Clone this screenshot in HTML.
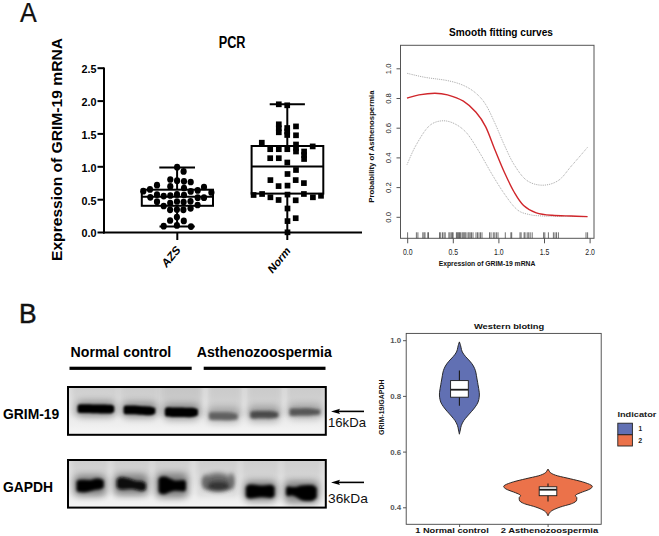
<!DOCTYPE html><html><head><meta charset="utf-8"><style>html,body{margin:0;padding:0;background:#fff;}svg{display:block;}text{font-family:"Liberation Sans",sans-serif;}</style></head><body>
<svg width="659" height="536" viewBox="0 0 659 536">
<rect width="659" height="536" fill="#fff"/>
<text transform="translate(19.9,21.9) scale(0.93,1)" font-size="27" fill="#111" stroke="#111" stroke-width="0.25">A</text>
<text x="18.9" y="322.6" font-size="27" fill="#111" stroke="#111" stroke-width="0.5" textLength="17.6" lengthAdjust="spacingAndGlyphs">B</text>
<g stroke="#000" stroke-width="2" fill="none">
<line x1="104" y1="67.5" x2="104" y2="233.5"/>
<line x1="103" y1="232.5" x2="362" y2="232.5"/>
<line x1="97.5" y1="232.5" x2="104" y2="232.5"/>
<line x1="97.5" y1="199.7" x2="104" y2="199.7"/>
<line x1="97.5" y1="166.8" x2="104" y2="166.8"/>
<line x1="97.5" y1="133.9" x2="104" y2="133.9"/>
<line x1="97.5" y1="101.1" x2="104" y2="101.1"/>
<line x1="97.5" y1="68.2" x2="104" y2="68.2"/>
<line x1="177.3" y1="232.5" x2="177.3" y2="240"/>
<line x1="287.3" y1="232.5" x2="287.3" y2="240"/>
<line x1="177.1" y1="167.6" x2="177.1" y2="189.7"/>
<line x1="177.1" y1="205.8" x2="177.1" y2="226.6"/>
<line x1="159.3" y1="167.6" x2="195" y2="167.6"/>
<line x1="159.5" y1="226.6" x2="194.8" y2="226.6"/>
<rect x="141.8" y="189.7" width="71.2" height="16.1"/>
<line x1="141.8" y1="196.7" x2="213" y2="196.7"/>
<line x1="287.3" y1="104.3" x2="287.3" y2="146"/>
<line x1="287.3" y1="193.6" x2="287.3" y2="232.5"/>
<line x1="269.7" y1="104.3" x2="304.9" y2="104.3"/>
<rect x="251.6" y="146" width="71.7" height="47.6"/>
<line x1="251.6" y1="166.4" x2="323.3" y2="166.4"/>
</g>
<g fill="#000">
<ellipse cx="177.1" cy="167.2" rx="3.1" ry="3.35"/>
<ellipse cx="183.6" cy="171.4" rx="3.1" ry="3.35"/>
<ellipse cx="170.3" cy="179.5" rx="3.1" ry="3.35"/>
<ellipse cx="177.1" cy="180.7" rx="3.1" ry="3.35"/>
<ellipse cx="184" cy="181.3" rx="3.1" ry="3.35"/>
<ellipse cx="190.7" cy="182" rx="3.1" ry="3.35"/>
<ellipse cx="157" cy="185.2" rx="3.1" ry="3.35"/>
<ellipse cx="170.3" cy="186.4" rx="3.1" ry="3.35"/>
<ellipse cx="184" cy="188" rx="3.1" ry="3.35"/>
<ellipse cx="204" cy="187" rx="3.1" ry="3.35"/>
<ellipse cx="150" cy="189.4" rx="3.1" ry="3.35"/>
<ellipse cx="143.3" cy="191.2" rx="3.1" ry="3.35"/>
<ellipse cx="190.7" cy="191.4" rx="3.1" ry="3.35"/>
<ellipse cx="197.7" cy="190.4" rx="3.1" ry="3.35"/>
<ellipse cx="211.4" cy="192.4" rx="3.1" ry="3.35"/>
<ellipse cx="157" cy="194.6" rx="3.1" ry="3.35"/>
<ellipse cx="150.3" cy="197.3" rx="3.1" ry="3.35"/>
<ellipse cx="163.7" cy="196.1" rx="3.1" ry="3.35"/>
<ellipse cx="170.3" cy="195.5" rx="3.1" ry="3.35"/>
<ellipse cx="177" cy="194.4" rx="3.1" ry="3.35"/>
<ellipse cx="184" cy="195" rx="3.1" ry="3.35"/>
<ellipse cx="197.7" cy="197.7" rx="3.1" ry="3.35"/>
<ellipse cx="204" cy="197.7" rx="3.1" ry="3.35"/>
<ellipse cx="157" cy="201.7" rx="3.1" ry="3.35"/>
<ellipse cx="170.2" cy="203" rx="3.1" ry="3.35"/>
<ellipse cx="177" cy="201.5" rx="3.1" ry="3.35"/>
<ellipse cx="183.6" cy="202" rx="3.1" ry="3.35"/>
<ellipse cx="190.5" cy="201.3" rx="3.1" ry="3.35"/>
<ellipse cx="163.7" cy="206" rx="3.1" ry="3.35"/>
<ellipse cx="197.6" cy="205" rx="3.1" ry="3.35"/>
<ellipse cx="170.1" cy="209.8" rx="3.1" ry="3.35"/>
<ellipse cx="176.9" cy="209.5" rx="3.1" ry="3.35"/>
<ellipse cx="183.4" cy="209.8" rx="3.1" ry="3.35"/>
<ellipse cx="190.6" cy="208.3" rx="3.1" ry="3.35"/>
<ellipse cx="176.9" cy="217.1" rx="3.1" ry="3.35"/>
<ellipse cx="170.1" cy="220.5" rx="3.1" ry="3.35"/>
<ellipse cx="183.8" cy="220.9" rx="3.1" ry="3.35"/>
<ellipse cx="163.7" cy="226.2" rx="3.1" ry="3.35"/>
<ellipse cx="176.9" cy="225.4" rx="3.1" ry="3.35"/>
<ellipse cx="191" cy="226.6" rx="3.1" ry="3.35"/>
<rect x="275.95" y="101.45" width="5.7" height="5.7"/>
<rect x="284.35" y="102.45" width="5.7" height="5.7"/>
<rect x="275.95" y="121.45" width="5.7" height="5.7"/>
<rect x="275.95" y="129.45" width="5.7" height="5.7"/>
<rect x="284.35" y="125.15" width="5.7" height="5.7"/>
<rect x="284.35" y="132.15" width="5.7" height="5.7"/>
<rect x="293.15" y="123.55" width="5.7" height="5.7"/>
<rect x="293.15" y="132.45" width="5.7" height="5.7"/>
<rect x="293.15" y="141.65" width="5.7" height="5.7"/>
<rect x="258.95" y="139.85" width="5.7" height="5.7"/>
<rect x="309.85" y="143.55" width="5.7" height="5.7"/>
<rect x="267.35" y="146.35" width="5.7" height="5.7"/>
<rect x="275.95" y="146.35" width="5.7" height="5.7"/>
<rect x="284.45" y="146.35" width="5.7" height="5.7"/>
<rect x="293.15" y="148.65" width="5.7" height="5.7"/>
<rect x="301.25" y="148.65" width="5.7" height="5.7"/>
<rect x="301.25" y="156.15" width="5.7" height="5.7"/>
<rect x="267.35" y="155.35" width="5.7" height="5.7"/>
<rect x="275.95" y="155.35" width="5.7" height="5.7"/>
<rect x="284.45" y="159.65" width="5.7" height="5.7"/>
<rect x="293.15" y="167.15" width="5.7" height="5.7"/>
<rect x="284.65" y="171.15" width="5.7" height="5.7"/>
<rect x="267.55" y="177.25" width="5.7" height="5.7"/>
<rect x="292.85" y="177.25" width="5.7" height="5.7"/>
<rect x="301.05" y="180.25" width="5.7" height="5.7"/>
<rect x="275.75" y="183.25" width="5.7" height="5.7"/>
<rect x="284.65" y="182.75" width="5.7" height="5.7"/>
<rect x="250.75" y="192.15" width="5.7" height="5.7"/>
<rect x="259.25" y="191.15" width="5.7" height="5.7"/>
<rect x="267.55" y="194.45" width="5.7" height="5.7"/>
<rect x="275.75" y="197.15" width="5.7" height="5.7"/>
<rect x="284.65" y="191.75" width="5.7" height="5.7"/>
<rect x="292.85" y="197.45" width="5.7" height="5.7"/>
<rect x="301.05" y="191.15" width="5.7" height="5.7"/>
<rect x="310.05" y="194.45" width="5.7" height="5.7"/>
<rect x="318.15" y="192.95" width="5.7" height="5.7"/>
<rect x="284.65" y="205.65" width="5.7" height="5.7"/>
<rect x="292.85" y="215.35" width="5.7" height="5.7"/>
<rect x="284.65" y="218.25" width="5.7" height="5.7"/>
<rect x="284.65" y="229.45" width="5.7" height="5.7"/>
<rect x="275.95" y="125.45" width="5.7" height="5.7"/>
<rect x="284.35" y="128.65" width="5.7" height="5.7"/>
<rect x="301.25" y="152.15" width="5.7" height="5.7"/>
<rect x="293.15" y="145.15" width="5.7" height="5.7"/>
</g>
<g font-size="11.4" font-weight="bold" fill="#000" text-anchor="end">
<text x="96.4" y="237.3" textLength="15" lengthAdjust="spacingAndGlyphs">0.0</text>
<text x="96.4" y="204.5" textLength="15" lengthAdjust="spacingAndGlyphs">0.5</text>
<text x="96.4" y="171.6" textLength="15" lengthAdjust="spacingAndGlyphs">1.0</text>
<text x="96.4" y="138.8" textLength="15" lengthAdjust="spacingAndGlyphs">1.5</text>
<text x="96.4" y="105.9" textLength="15" lengthAdjust="spacingAndGlyphs">2.0</text>
<text x="96.4" y="73.0" textLength="15" lengthAdjust="spacingAndGlyphs">2.5</text>
</g>
<text x="218.7" y="47.8" font-size="16.8" font-weight="bold" textLength="26.8" lengthAdjust="spacingAndGlyphs">PCR</text>
<text transform="translate(61.5,261) rotate(-90)" x="0" y="0" font-size="14" font-weight="bold" textLength="223" lengthAdjust="spacingAndGlyphs">Expression of GRIM-19 mRNA</text>
<text transform="translate(166.3,268.6) scale(1,1.22) rotate(-45)" font-size="10.4" font-weight="bold">AZS</text>
<text transform="translate(272.3,274.3) scale(1,1.22) rotate(-45)" font-size="10.1" font-weight="bold">Norm</text>
<g stroke="#555" stroke-width="1" fill="none">
<rect x="400.5" y="45.3" width="193.5" height="193"/>
<line x1="396.5" y1="217.3" x2="400.5" y2="217.3"/>
<line x1="396.5" y1="187.6" x2="400.5" y2="187.6"/>
<line x1="396.5" y1="157.9" x2="400.5" y2="157.9"/>
<line x1="396.5" y1="128.2" x2="400.5" y2="128.2"/>
<line x1="396.5" y1="98.5" x2="400.5" y2="98.5"/>
<line x1="396.5" y1="68.8" x2="400.5" y2="68.8"/>
<line x1="407.7" y1="238.3" x2="407.7" y2="243.3"/>
<line x1="453.3" y1="238.3" x2="453.3" y2="243.3"/>
<line x1="498.9" y1="238.3" x2="498.9" y2="243.3"/>
<line x1="544.5" y1="238.3" x2="544.5" y2="243.3"/>
<line x1="590.1" y1="238.3" x2="590.1" y2="243.3"/>
</g>
<g font-size="8.3" fill="#222" text-anchor="middle">
<text transform="translate(391.2,217.3) rotate(-90)" font-size="7.7">0.0</text>
<text transform="translate(391.2,187.6) rotate(-90)" font-size="7.7">0.2</text>
<text transform="translate(391.2,157.9) rotate(-90)" font-size="7.7">0.4</text>
<text transform="translate(391.2,128.2) rotate(-90)" font-size="7.7">0.6</text>
<text transform="translate(391.2,98.5) rotate(-90)" font-size="7.7">0.8</text>
<text transform="translate(391.2,68.8) rotate(-90)" font-size="7.7">1.0</text>
<text x="407.7" y="255.2" textLength="9.6" lengthAdjust="spacingAndGlyphs">0.0</text>
<text x="453.3" y="255.2" textLength="9.6" lengthAdjust="spacingAndGlyphs">0.5</text>
<text x="498.9" y="255.2" textLength="9.6" lengthAdjust="spacingAndGlyphs">1.0</text>
<text x="544.5" y="255.2" textLength="9.6" lengthAdjust="spacingAndGlyphs">1.5</text>
<text x="590.1" y="255.2" textLength="9.6" lengthAdjust="spacingAndGlyphs">2.0</text>
</g>
<text x="449.1" y="36" font-size="10.9" font-weight="bold" textLength="103.8" lengthAdjust="spacingAndGlyphs">Smooth fitting curves</text>
<text x="438.7" y="265.5" font-size="8" font-weight="bold" fill="#111" textLength="96.6" lengthAdjust="spacingAndGlyphs">Expression of GRIM-19 mRNA</text>
<text transform="translate(373.6,202.7) rotate(-90)" font-size="7.6" font-weight="bold" fill="#111" textLength="112.3" lengthAdjust="spacingAndGlyphs">Probability of Asthenospermia</text>
<path d="M407,73.3 C410.1,74.0 418.6,76.2 425.4,77.4 C432.1,78.6 441.2,79.3 447.5,80.6 C453.8,81.9 458.6,83.3 463.4,85.4 C468.1,87.5 472.3,90.1 476,93.3 C479.7,96.5 482.4,99.4 485.6,104.4 C488.8,109.4 491.8,116.5 495,123.4 C498.2,130.3 501.4,138.7 504.6,145.6 C507.8,152.5 510.4,158.8 514.1,164.6 C517.8,170.4 522.0,177.0 526.8,180.4 C531.5,183.8 537.3,185.2 542.6,185.2 C547.9,185.2 553.7,183.6 558.5,180.4 C563.3,177.2 566.4,171.7 571.2,166.2 C576.1,160.7 584.9,150.4 587.6,147.2" fill="none" stroke="#8a8a8a" stroke-width="0.8" stroke-dasharray="0.9 1"/>
<path d="M407,164.6 C408.5,161.4 412.2,151.9 415.8,145.6 C419.4,139.3 424.3,130.7 428.5,126.6 C432.7,122.5 437.0,121.4 441.2,120.9 C445.4,120.4 449.7,121.4 453.9,123.4 C458.1,125.4 462.4,128.2 466.6,132.9 C470.8,137.7 475.0,145.0 479.2,151.9 C483.4,158.8 487.7,167.1 491.9,174.1 C496.1,181.1 500.4,188.2 504.6,194.2 C508.8,200.1 513.1,206.4 517.3,209.8 C521.5,213.2 525.8,213.7 530,214.7 C534.2,215.7 537.9,215.7 542.6,216 C547.4,216.3 551.0,216.2 558.5,216.3 C566.0,216.4 582.8,216.6 587.6,216.6" fill="none" stroke="#8a8a8a" stroke-width="0.8" stroke-dasharray="0.9 1"/>
<path d="M407,98 C409.0,97.5 414.4,95.7 419,94.9 C423.6,94.1 430.1,93.3 434.9,93.3 C439.6,93.3 442.8,93.6 447.5,94.9 C452.2,96.2 458.6,98.3 463.4,101.2 C468.1,104.1 472.3,108.1 476,112.3 C479.7,116.5 482.4,120.3 485.6,126.6 C488.8,132.9 491.8,142.3 495,150 C498.2,157.7 501.4,165.8 504.6,172.8 C507.8,179.8 510.9,186.6 514.1,192 C517.3,197.4 519.9,202.0 523.6,205.5 C527.3,209.0 531.5,211.2 536.3,212.8 C541.0,214.4 546.3,214.8 552.1,215.3 C557.9,215.8 565.3,215.8 571.2,216 C577.1,216.2 584.9,216.5 587.6,216.6" fill="none" stroke="#d0262b" stroke-width="1.4"/>
<g stroke="#333" stroke-width="0.7">
<line x1="407.6" y1="232.3" x2="407.6" y2="238.3"/>
<line x1="416.4" y1="232.3" x2="416.4" y2="238.3"/>
<line x1="417.9" y1="232.3" x2="417.9" y2="238.3"/>
<line x1="422.8" y1="232.3" x2="422.8" y2="238.3"/>
<line x1="424" y1="232.3" x2="424" y2="238.3"/>
<line x1="425" y1="232.3" x2="425" y2="238.3"/>
<line x1="427.8" y1="232.3" x2="427.8" y2="238.3"/>
<line x1="428.5" y1="232.3" x2="428.5" y2="238.3"/>
<line x1="439.5" y1="232.3" x2="439.5" y2="238.3"/>
<line x1="440.7" y1="232.3" x2="440.7" y2="238.3"/>
<line x1="442.5" y1="232.3" x2="442.5" y2="238.3"/>
<line x1="444" y1="232.3" x2="444" y2="238.3"/>
<line x1="445.2" y1="232.3" x2="445.2" y2="238.3"/>
<line x1="448.9" y1="232.3" x2="448.9" y2="238.3"/>
<line x1="450" y1="232.3" x2="450" y2="238.3"/>
<line x1="451.3" y1="232.3" x2="451.3" y2="238.3"/>
<line x1="452.4" y1="232.3" x2="452.4" y2="238.3"/>
<line x1="453.1" y1="232.3" x2="453.1" y2="238.3"/>
<line x1="456.4" y1="232.3" x2="456.4" y2="238.3"/>
<line x1="457.2" y1="232.3" x2="457.2" y2="238.3"/>
<line x1="458" y1="232.3" x2="458" y2="238.3"/>
<line x1="458.8" y1="232.3" x2="458.8" y2="238.3"/>
<line x1="459.6" y1="232.3" x2="459.6" y2="238.3"/>
<line x1="460.4" y1="232.3" x2="460.4" y2="238.3"/>
<line x1="462" y1="232.3" x2="462" y2="238.3"/>
<line x1="463" y1="232.3" x2="463" y2="238.3"/>
<line x1="464" y1="232.3" x2="464" y2="238.3"/>
<line x1="465" y1="232.3" x2="465" y2="238.3"/>
<line x1="466" y1="232.3" x2="466" y2="238.3"/>
<line x1="468" y1="232.3" x2="468" y2="238.3"/>
<line x1="469" y1="232.3" x2="469" y2="238.3"/>
<line x1="470.2" y1="232.3" x2="470.2" y2="238.3"/>
<line x1="471.5" y1="232.3" x2="471.5" y2="238.3"/>
<line x1="473" y1="232.3" x2="473" y2="238.3"/>
<line x1="476" y1="232.3" x2="476" y2="238.3"/>
<line x1="477.5" y1="232.3" x2="477.5" y2="238.3"/>
<line x1="479" y1="232.3" x2="479" y2="238.3"/>
<line x1="480.5" y1="232.3" x2="480.5" y2="238.3"/>
<line x1="482" y1="232.3" x2="482" y2="238.3"/>
<line x1="489.5" y1="232.3" x2="489.5" y2="238.3"/>
<line x1="491" y1="232.3" x2="491" y2="238.3"/>
<line x1="493.3" y1="232.3" x2="493.3" y2="238.3"/>
<line x1="494.8" y1="232.3" x2="494.8" y2="238.3"/>
<line x1="496.4" y1="232.3" x2="496.4" y2="238.3"/>
<line x1="498" y1="232.3" x2="498" y2="238.3"/>
<line x1="505.3" y1="232.3" x2="505.3" y2="238.3"/>
<line x1="510.9" y1="232.3" x2="510.9" y2="238.3"/>
<line x1="511.7" y1="232.3" x2="511.7" y2="238.3"/>
<line x1="520" y1="232.3" x2="520" y2="238.3"/>
<line x1="521.1" y1="232.3" x2="521.1" y2="238.3"/>
<line x1="524.1" y1="232.3" x2="524.1" y2="238.3"/>
<line x1="525" y1="232.3" x2="525" y2="238.3"/>
<line x1="527.2" y1="232.3" x2="527.2" y2="238.3"/>
<line x1="528.7" y1="232.3" x2="528.7" y2="238.3"/>
<line x1="530.2" y1="232.3" x2="530.2" y2="238.3"/>
<line x1="532.2" y1="232.3" x2="532.2" y2="238.3"/>
<line x1="543.6" y1="232.3" x2="543.6" y2="238.3"/>
<line x1="544.8" y1="232.3" x2="544.8" y2="238.3"/>
<line x1="548.4" y1="232.3" x2="548.4" y2="238.3"/>
<line x1="553.4" y1="232.3" x2="553.4" y2="238.3"/>
<line x1="555" y1="232.3" x2="555" y2="238.3"/>
<line x1="556.5" y1="232.3" x2="556.5" y2="238.3"/>
<line x1="558.4" y1="232.3" x2="558.4" y2="238.3"/>
<line x1="586" y1="232.3" x2="586" y2="238.3"/>
<line x1="587.6" y1="232.3" x2="587.6" y2="238.3"/>
</g>
<text x="70.6" y="356.8" font-size="14.3" font-weight="bold" textLength="100.7" lengthAdjust="spacingAndGlyphs">Normal control</text>
<text x="196.8" y="356.8" font-size="14.3" font-weight="bold" textLength="135" lengthAdjust="spacingAndGlyphs">Asthenozoospermia</text>
<rect x="69.5" y="366.7" width="122.2" height="3.2" fill="#000"/>
<rect x="203.7" y="366.7" width="121.8" height="3.2" fill="#000"/>
<text x="3" y="418.9" font-size="14" font-weight="bold" textLength="56.3" lengthAdjust="spacingAndGlyphs">GRIM-19</text>
<text x="3" y="491.9" font-size="14" font-weight="bold" textLength="50.1" lengthAdjust="spacingAndGlyphs">GAPDH</text>
<defs>
<linearGradient id="bg1" x1="0" y1="0" x2="0" y2="1"><stop offset="0" stop-color="#dddddd"/><stop offset="0.45" stop-color="#e5e5e5"/><stop offset="1" stop-color="#f5f5f5"/></linearGradient>
<filter id="b1" x="-30%" y="-80%" width="160%" height="260%"><feGaussianBlur stdDeviation="1.1"/></filter>
<filter id="b2" x="-30%" y="-80%" width="160%" height="260%"><feGaussianBlur stdDeviation="3.5"/></filter>
<filter id="b4" x="-50%" y="-50%" width="200%" height="200%"><feGaussianBlur stdDeviation="1.7"/></filter>
<filter id="b5" x="-50%" y="-50%" width="200%" height="200%"><feGaussianBlur stdDeviation="1.7"/></filter>
<filter id="b6" x="-80%" y="-80%" width="260%" height="260%"><feGaussianBlur stdDeviation="2"/></filter>
<filter id="b3" x="-50%" y="-50%" width="200%" height="200%"><feGaussianBlur stdDeviation="2.5"/></filter>
<clipPath id="c1"><rect x="68" y="387" width="257.8" height="47.8"/></clipPath>
<clipPath id="c2"><rect x="68" y="460" width="257.8" height="47.6"/></clipPath>
<linearGradient id="bg2" x1="0" y1="0" x2="0" y2="1"><stop offset="0" stop-color="#dcdcdc"/><stop offset="0.45" stop-color="#e4e4e4"/><stop offset="1" stop-color="#f4f4f4"/></linearGradient>
</defs>
<g clip-path="url(#c1)">
<rect x="68" y="387" width="257.8" height="47.8" fill="url(#bg1)"/>
<rect x="72" y="380" width="46" height="36" fill="#000" opacity="0.06" filter="url(#b3)"/>
<rect x="120" y="380" width="40" height="36" fill="#000" opacity="0.07" filter="url(#b3)"/>
<rect x="161" y="380" width="41" height="36" fill="#000" opacity="0.1" filter="url(#b3)"/>
<rect x="208" y="380" width="34" height="36" fill="#000" opacity="0.08" filter="url(#b3)"/>
<rect x="247" y="380" width="35" height="36" fill="#000" opacity="0.08" filter="url(#b3)"/>
<rect x="287" y="380" width="37" height="36" fill="#000" opacity="0.08" filter="url(#b3)"/>
<rect x="76" y="401" width="39.5" height="16" rx="6" fill="#000" opacity="0.33" filter="url(#b2)"/>
<rect x="122" y="402" width="35" height="16" rx="6" fill="#000" opacity="0.33" filter="url(#b2)"/>
<rect x="163.5" y="404" width="36.0" height="16" rx="6" fill="#000" opacity="0.33" filter="url(#b2)"/>
<rect x="207" y="407" width="33" height="16" rx="6" fill="#000" opacity="0.22" filter="url(#b2)"/>
<rect x="248" y="406" width="32" height="16" rx="6" fill="#000" opacity="0.25" filter="url(#b2)"/>
<rect x="288" y="404" width="34" height="15" rx="6" fill="#000" opacity="0.22" filter="url(#b2)"/>
<path d="M77.5,406.5 C77.8,406.2 77.8,405.0 79.0,404.6 C80.2,404.2 82.3,404.3 85.0,404.3 C87.7,404.3 91.7,404.4 95.0,404.5 C98.3,404.6 102.3,404.6 105.0,404.6 C107.7,404.7 109.5,404.5 111.0,404.8 C112.5,405.1 113.7,406.2 114.2,406.5 L114.2,411.8 C113.7,412.1 112.5,413.1 111.0,413.4 C109.5,413.7 107.7,413.4 105.0,413.4 C102.3,413.4 98.3,413.3 95.0,413.2 C91.7,413.1 87.7,413.1 85.0,413.0 C82.3,412.9 80.2,413.1 79.0,412.8 C77.8,412.6 77.8,411.7 77.5,411.5 Z" fill="#050505" filter="url(#b1)"/>
<path d="M123.6,407.5 C123.8,407.2 123.9,406.0 125.0,405.7 C126.1,405.4 127.5,405.5 130.0,405.5 C132.5,405.5 136.7,405.7 140.0,405.9 C143.3,406.1 147.4,406.2 150.0,406.6 C152.6,407.0 154.4,408.0 155.3,408.3 L155.3,413.6 C154.4,413.9 152.6,415.1 150.0,415.3 C147.4,415.5 143.3,415.0 140.0,414.8 C136.7,414.6 132.5,414.4 130.0,414.3 C127.5,414.2 126.1,414.5 125.0,414.2 C123.9,413.9 123.8,412.8 123.6,412.5 Z" fill="#050505" filter="url(#b1)"/>
<path d="M164.9,409.5 C165.2,409.2 165.3,408.0 166.5,407.6 C167.7,407.2 169.4,407.4 172.0,407.4 C174.6,407.4 178.7,407.5 182.0,407.6 C185.3,407.7 189.3,407.5 192.0,407.8 C194.7,408.1 196.9,409.2 197.9,409.5 L197.9,415.2 C196.9,415.5 194.7,416.7 192.0,417.0 C189.3,417.3 185.3,417.1 182.0,417.1 C178.7,417.1 174.6,417.1 172.0,417.0 C169.4,416.9 167.7,417.0 166.5,416.6 C165.3,416.2 165.2,415.1 164.9,414.8 Z" fill="#050505" filter="url(#b1)"/>
<path d="M209.0,414.0 C209.3,413.7 209.2,412.6 211.0,412.3 C212.8,412.0 216.8,412.3 220.0,412.3 C223.2,412.3 227.1,412.2 230.0,412.5 C232.9,412.8 236.3,413.8 237.6,414.0 L237.6,419.2 C236.3,419.4 232.9,420.1 230.0,420.2 C227.1,420.3 223.2,420.1 220.0,420.0 C216.8,419.9 212.8,420.1 211.0,419.8 C209.2,419.6 209.3,418.7 209.0,418.5 Z" fill="#606060" filter="url(#b4)"/>
<path d="M250.3,412.8 C250.7,412.6 250.6,411.6 252.5,411.3 C254.4,411.0 258.8,411.0 262.0,411.0 C265.2,411.0 269.3,410.9 272.0,411.2 C274.7,411.5 277.2,412.5 278.3,412.8 L278.3,417.0 C277.2,417.2 274.7,418.1 272.0,418.3 C269.3,418.5 265.2,418.3 262.0,418.3 C258.8,418.3 254.4,418.6 252.5,418.4 C250.6,418.2 250.7,417.4 250.3,417.2 Z" fill="#484848" filter="url(#b4)"/>
<path d="M289.6,410.2 C289.9,409.9 289.8,408.9 291.5,408.6 C293.2,408.3 296.9,408.4 300.0,408.4 C303.1,408.4 306.6,408.2 310.0,408.4 C313.4,408.6 318.4,409.6 320.1,409.8 L320.1,414.3 C318.4,414.5 313.4,415.2 310.0,415.4 C306.6,415.6 303.1,415.5 300.0,415.6 C296.9,415.7 293.2,415.9 291.5,415.8 C289.8,415.7 289.9,415.0 289.6,414.8 Z" fill="#555555" filter="url(#b4)"/>
</g>
<rect x="68" y="387" width="257.8" height="47.8" fill="none" stroke="#000" stroke-width="2"/>
<g clip-path="url(#c2)">
<rect x="68" y="460" width="257.8" height="47.6" fill="url(#bg2)"/>
<rect x="72" y="455" width="36" height="42" fill="#000" opacity="0.06" filter="url(#b3)"/>
<rect x="113" y="455" width="37" height="42" fill="#000" opacity="0.06" filter="url(#b3)"/>
<rect x="154" y="455" width="36" height="42" fill="#000" opacity="0.06" filter="url(#b3)"/>
<rect x="197" y="455" width="41" height="42" fill="#000" opacity="0.06" filter="url(#b3)"/>
<rect x="242" y="455" width="37" height="42" fill="#000" opacity="0.06" filter="url(#b3)"/>
<rect x="283" y="455" width="38" height="42" fill="#000" opacity="0.06" filter="url(#b3)"/>
<rect x="74" y="475" width="32" height="21" rx="6" fill="#000" opacity="0.4" filter="url(#b2)"/>
<rect x="114" y="474" width="34" height="21" rx="6" fill="#000" opacity="0.4" filter="url(#b2)"/>
<rect x="156" y="473" width="32" height="25" rx="6" fill="#000" opacity="0.4" filter="url(#b2)"/>
<rect x="244" y="481" width="33" height="21" rx="6" fill="#000" opacity="0.4" filter="url(#b2)"/>
<rect x="284" y="481" width="35" height="23" rx="6" fill="#000" opacity="0.4" filter="url(#b2)"/>
<path d="M76.5,481.5 C76.9,481.2 77.6,480.3 79.0,480.0 C80.4,479.7 83.0,479.8 85.0,479.8 C87.0,479.8 89.3,480.2 91.0,480.0 C92.7,479.8 93.5,479.0 95.0,478.8 C96.5,478.6 98.5,478.4 100.0,478.7 C101.5,479.0 103.2,480.2 103.8,480.5 L103.8,487.5 C103.2,487.8 101.5,488.9 100.0,489.3 C98.5,489.7 96.5,489.7 95.0,490.0 C93.5,490.3 92.7,490.6 91.0,491.0 C89.3,491.4 87.0,492.1 85.0,492.3 C83.0,492.5 80.4,492.3 79.0,492.0 C77.6,491.7 76.9,490.8 76.5,490.5 Z" fill="#050505" filter="url(#b5)"/>
<path d="M116.7,480.0 C117.1,479.6 117.8,478.2 119.0,477.8 C120.2,477.4 122.3,477.3 124.0,477.4 C125.7,477.5 127.5,478.1 129.0,478.5 C130.5,478.9 131.7,479.6 133.0,480.0 C134.3,480.4 135.5,480.8 137.0,481.0 C138.5,481.2 140.5,480.9 142.0,481.3 C143.5,481.7 145.3,483.1 146.0,483.5 L146.0,489.5 C145.3,489.8 143.5,490.9 142.0,491.0 C140.5,491.1 138.5,490.3 137.0,490.0 C135.5,489.7 134.3,489.2 133.0,489.0 C131.7,488.8 130.5,488.9 129.0,489.0 C127.5,489.1 125.7,489.5 124.0,489.5 C122.3,489.5 120.2,489.4 119.0,489.0 C117.8,488.6 117.1,487.3 116.7,487.0 Z" fill="#0a0a0a" filter="url(#b5)"/>
<path d="M158.5,479.5 C158.8,479.1 159.4,477.5 160.5,477.0 C161.6,476.5 163.4,476.4 165.0,476.6 C166.6,476.9 168.3,477.9 170.0,478.5 C171.7,479.1 173.3,480.2 175.0,480.5 C176.7,480.8 178.5,480.4 180.0,480.3 C181.5,480.2 183.0,479.7 184.0,480.0 C185.0,480.3 185.7,481.7 186.0,482.0 L186.0,489.5 C185.7,489.8 185.0,491.1 184.0,491.4 C183.0,491.6 181.5,491.1 180.0,491.0 C178.5,490.9 176.7,490.5 175.0,490.7 C173.3,490.9 171.7,491.4 170.0,492.0 C168.3,492.6 166.6,493.7 165.0,494.0 C163.4,494.3 161.6,494.3 160.5,493.8 C159.4,493.3 158.8,491.5 158.5,491.0 Z" fill="#050505" filter="url(#b5)"/>
<path d="M245.8,487.5 C246.2,487.1 246.8,485.5 248.0,485.0 C249.2,484.5 251.0,484.5 253.0,484.6 C255.0,484.7 257.8,485.4 260.0,485.5 C262.2,485.6 264.2,485.4 266.0,485.3 C267.8,485.2 269.6,484.5 271.0,484.8 C272.4,485.1 274.0,486.6 274.6,487.0 L274.6,496.0 C274.0,496.3 272.4,497.8 271.0,498.0 C269.6,498.2 267.8,497.6 266.0,497.5 C264.2,497.4 262.2,497.2 260.0,497.3 C257.8,497.4 255.0,498.1 253.0,498.3 C251.0,498.5 249.2,498.7 248.0,498.3 C246.8,497.9 246.2,496.4 245.8,496.0 Z" fill="#050505" filter="url(#b5)"/>
<path d="M286.0,488.5 C286.3,488.1 287.0,486.4 288.0,486.2 C289.0,485.9 290.7,486.9 292.0,487.0 C293.3,487.1 294.5,487.2 296.0,487.0 C297.5,486.8 299.2,485.8 301.0,485.5 C302.8,485.2 305.0,485.0 307.0,485.0 C309.0,485.0 311.4,484.8 313.0,485.3 C314.6,485.8 316.2,487.6 316.8,488.0 L316.8,497.5 C316.2,498.0 314.6,499.9 313.0,500.5 C311.4,501.1 309.0,501.1 307.0,501.0 C305.0,500.9 302.8,500.7 301.0,500.0 C299.2,499.3 297.5,497.8 296.0,497.0 C294.5,496.2 293.3,495.6 292.0,495.5 C290.7,495.4 289.0,496.4 288.0,496.2 C287.0,496.0 286.3,494.8 286.0,494.5 Z" fill="#050505" filter="url(#b5)"/>
<ellipse cx="217.5" cy="482" rx="15" ry="9" fill="#000" opacity="0.5" filter="url(#b3)"/>
<ellipse cx="218.5" cy="486" rx="13" ry="4.6" fill="#333" filter="url(#b6)"/>
<ellipse cx="205.5" cy="482" rx="2.6" ry="7" fill="#666" filter="url(#b6)"/>
<ellipse cx="231.5" cy="481" rx="2.6" ry="8" fill="#666" filter="url(#b6)"/>
</g>
<rect x="68" y="460" width="257.8" height="47.6" fill="none" stroke="#000" stroke-width="2"/>
<line x1="336" y1="411.4" x2="364" y2="411.4" stroke="#000" stroke-width="1.6"/>
<path d="M331,411.4 L340,408.79999999999995 L338.5,411.4 L340,414.0 Z" fill="#000"/>
<line x1="336" y1="482.4" x2="364" y2="482.4" stroke="#000" stroke-width="1.6"/>
<path d="M331,482.4 L340,479.79999999999995 L338.5,482.4 L340,485.0 Z" fill="#000"/>
<text x="328" y="427.3" font-size="13" fill="#111" textLength="38" lengthAdjust="spacingAndGlyphs">16kDa</text>
<text x="328" y="503.2" font-size="13" fill="#111" textLength="39.8" lengthAdjust="spacingAndGlyphs">36kDa</text>
<rect x="406.2" y="333.4" width="195" height="190.9" fill="none" stroke="#444" stroke-width="0.9"/>
<g stroke="#444" stroke-width="0.9">
<line x1="403" y1="340.7" x2="406.2" y2="340.7"/>
<line x1="403" y1="396.4" x2="406.2" y2="396.4"/>
<line x1="403" y1="452.1" x2="406.2" y2="452.1"/>
<line x1="403" y1="507.8" x2="406.2" y2="507.8"/>
<line x1="459.6" y1="524.3" x2="459.6" y2="527"/>
<line x1="548.1" y1="524.3" x2="548.1" y2="527"/>
</g>
<g font-size="7.2" font-weight="bold" fill="#555" text-anchor="end">
<text x="401.2" y="343.3" textLength="11" lengthAdjust="spacingAndGlyphs">1.0</text>
<text x="401.2" y="399.0" textLength="11" lengthAdjust="spacingAndGlyphs">0.8</text>
<text x="401.2" y="454.7" textLength="11" lengthAdjust="spacingAndGlyphs">0.6</text>
<text x="401.2" y="510.4" textLength="11" lengthAdjust="spacingAndGlyphs">0.4</text>
</g>
<text x="474" y="329.4" font-size="7.6" font-weight="bold" fill="#111" textLength="70.2" lengthAdjust="spacingAndGlyphs">Western bloting</text>
<text x="415.2" y="532.8" font-size="7.6" font-weight="bold" fill="#111" textLength="73.6" lengthAdjust="spacingAndGlyphs">1 Normal control</text>
<text x="500.7" y="532.8" font-size="7.6" font-weight="bold" fill="#111" textLength="97.5" lengthAdjust="spacingAndGlyphs">2 Asthenozoospermia</text>
<text transform="translate(384.3,434.9) rotate(-90)" font-size="7.2" font-weight="bold" fill="#111" textLength="55.4" lengthAdjust="spacingAndGlyphs">GRIM-19/GAPDH</text>
<path d="M459.4,341.9 C459.5,342.3 460.0,343.6 460.3,344.5 C460.6,345.4 460.7,346.1 461.0,347.3 C461.3,348.6 461.5,350.4 462.3,352.0 C463.1,353.6 464.4,355.1 465.7,356.7 C467.0,358.2 468.7,359.8 470.0,361.3 C471.3,362.9 472.5,364.4 473.4,366.0 C474.3,367.6 474.9,369.1 475.4,370.6 C475.9,372.2 476.1,373.7 476.4,375.3 C476.7,376.9 476.9,378.4 477.2,380.0 C477.5,381.6 477.8,383.2 478.0,384.6 C478.2,386.0 478.5,387.1 478.7,388.5 C478.9,389.9 479.2,391.2 479.3,392.7 C479.4,394.2 479.4,395.8 479.2,397.3 C479.0,398.9 478.7,400.4 478.1,402.0 C477.5,403.6 476.5,405.1 475.4,406.7 C474.3,408.2 473.0,409.8 471.7,411.3 C470.4,412.9 468.8,414.4 467.5,416.0 C466.2,417.6 464.8,419.1 463.8,420.6 C462.8,422.2 462.0,423.7 461.4,425.3 C460.8,426.9 460.6,428.5 460.3,430.0 C460.0,431.5 459.5,433.5 459.4,434.2 C459.2,433.5 458.8,431.5 458.5,430.0 C458.2,428.5 458.0,426.9 457.4,425.3 C456.8,423.7 456.0,422.2 455.0,420.6 C454.0,419.1 452.6,417.6 451.3,416.0 C450.0,414.4 448.4,412.9 447.1,411.3 C445.8,409.8 444.5,408.2 443.4,406.7 C442.3,405.1 441.3,403.6 440.7,402.0 C440.1,400.4 439.8,398.9 439.6,397.3 C439.4,395.8 439.4,394.2 439.5,392.7 C439.6,391.2 439.9,389.9 440.1,388.5 C440.3,387.1 440.5,386.0 440.8,384.6 C441.0,383.2 441.3,381.6 441.6,380.0 C441.9,378.4 442.1,376.9 442.4,375.3 C442.7,373.7 442.9,372.2 443.4,370.6 C443.9,369.1 444.5,367.6 445.4,366.0 C446.3,364.4 447.5,362.9 448.8,361.3 C450.1,359.8 451.8,358.2 453.1,356.7 C454.4,355.1 455.7,353.6 456.5,352.0 C457.3,350.4 457.5,348.6 457.8,347.3 C458.1,346.1 458.2,345.4 458.5,344.5 C458.8,343.6 459.2,342.3 459.4,341.9 Z" fill="#6170b3" stroke="#1a1a1a" stroke-width="0.9" stroke-linejoin="round"/>
<path d="M548.0,469.1 C548.2,469.4 548.7,470.3 549.2,471.0 C549.7,471.7 549.8,472.4 551.2,473.2 C552.6,474.0 554.3,474.9 557.5,475.8 C560.7,476.7 566.2,477.8 570.4,478.8 C574.6,479.8 579.3,480.9 582.7,481.9 C586.1,482.9 589.3,484.1 590.9,485.0 C592.5,485.9 592.5,486.3 592.1,487.1 C591.8,487.9 590.7,488.7 588.8,489.6 C586.9,490.5 582.8,491.8 580.6,492.7 C578.4,493.6 576.1,494.5 575.5,495.3 C574.9,496.1 576.7,496.8 576.8,497.7 C576.9,498.6 576.8,500.1 576.3,500.9 C575.8,501.7 575.0,502.1 574.0,502.6 C573.0,503.2 572.5,503.4 570.2,504.2 C567.9,504.9 563.0,506.1 560.1,507.1 C557.2,508.1 554.6,509.2 552.9,510.1 C551.2,511.0 550.5,511.8 549.8,512.5 C549.1,513.2 549.1,513.7 548.8,514.2 C548.5,514.8 548.1,515.5 548.0,515.8 C547.9,515.5 547.5,514.8 547.2,514.2 C546.9,513.7 546.9,513.2 546.2,512.5 C545.5,511.8 544.8,511.0 543.1,510.1 C541.4,509.2 538.8,508.1 535.9,507.1 C533.0,506.1 528.1,504.9 525.8,504.2 C523.5,503.4 523.0,503.2 522.0,502.6 C521.0,502.1 520.2,501.7 519.7,500.9 C519.2,500.1 519.1,498.6 519.2,497.7 C519.3,496.8 521.1,496.1 520.5,495.3 C519.9,494.5 517.6,493.6 515.4,492.7 C513.2,491.8 509.1,490.5 507.2,489.6 C505.3,488.7 504.2,487.9 503.9,487.1 C503.5,486.3 503.5,485.9 505.1,485.0 C506.7,484.1 509.9,482.9 513.3,481.9 C516.7,480.9 521.4,479.8 525.6,478.8 C529.8,477.8 535.3,476.7 538.5,475.8 C541.7,474.9 543.4,474.0 544.8,473.2 C546.2,472.4 546.3,471.7 546.8,471.0 C547.3,470.3 547.8,469.4 548.0,469.1 Z" fill="#eb724a" stroke="#1a1a1a" stroke-width="0.9" stroke-linejoin="round"/>
<g stroke="#1a1a1a" stroke-width="0.9">
<line x1="459.4" y1="370.6" x2="459.4" y2="405.8" stroke-width="1.1"/>
<rect x="450.6" y="380.6" width="17.7" height="16.6" fill="#fff"/>
<line x1="450.7" y1="389.7" x2="468.2" y2="389.7" stroke-width="1.8"/>
<line x1="548" y1="483.5" x2="548" y2="501.4" stroke-width="1.1"/>
<rect x="539.2" y="486.8" width="17.6" height="8.9" fill="#fff"/>
<line x1="539.2" y1="489.7" x2="556.8" y2="489.7" stroke-width="1.8"/>
</g>
<text x="617.4" y="417.2" font-size="7.6" font-weight="bold" fill="#222" textLength="39" lengthAdjust="spacingAndGlyphs">Indicator</text>
<rect x="617.8" y="423.2" width="14.6" height="11.4" fill="#6170b3" stroke="#222" stroke-width="0.9"/>
<rect x="617.8" y="434.8" width="14.6" height="11.2" fill="#eb724a" stroke="#222" stroke-width="0.9"/>
<text x="638.6" y="431" font-size="6.5" font-weight="bold" fill="#222">1</text>
<text x="638.3" y="443" font-size="7" font-weight="bold" fill="#222">2</text>
</svg></body></html>
